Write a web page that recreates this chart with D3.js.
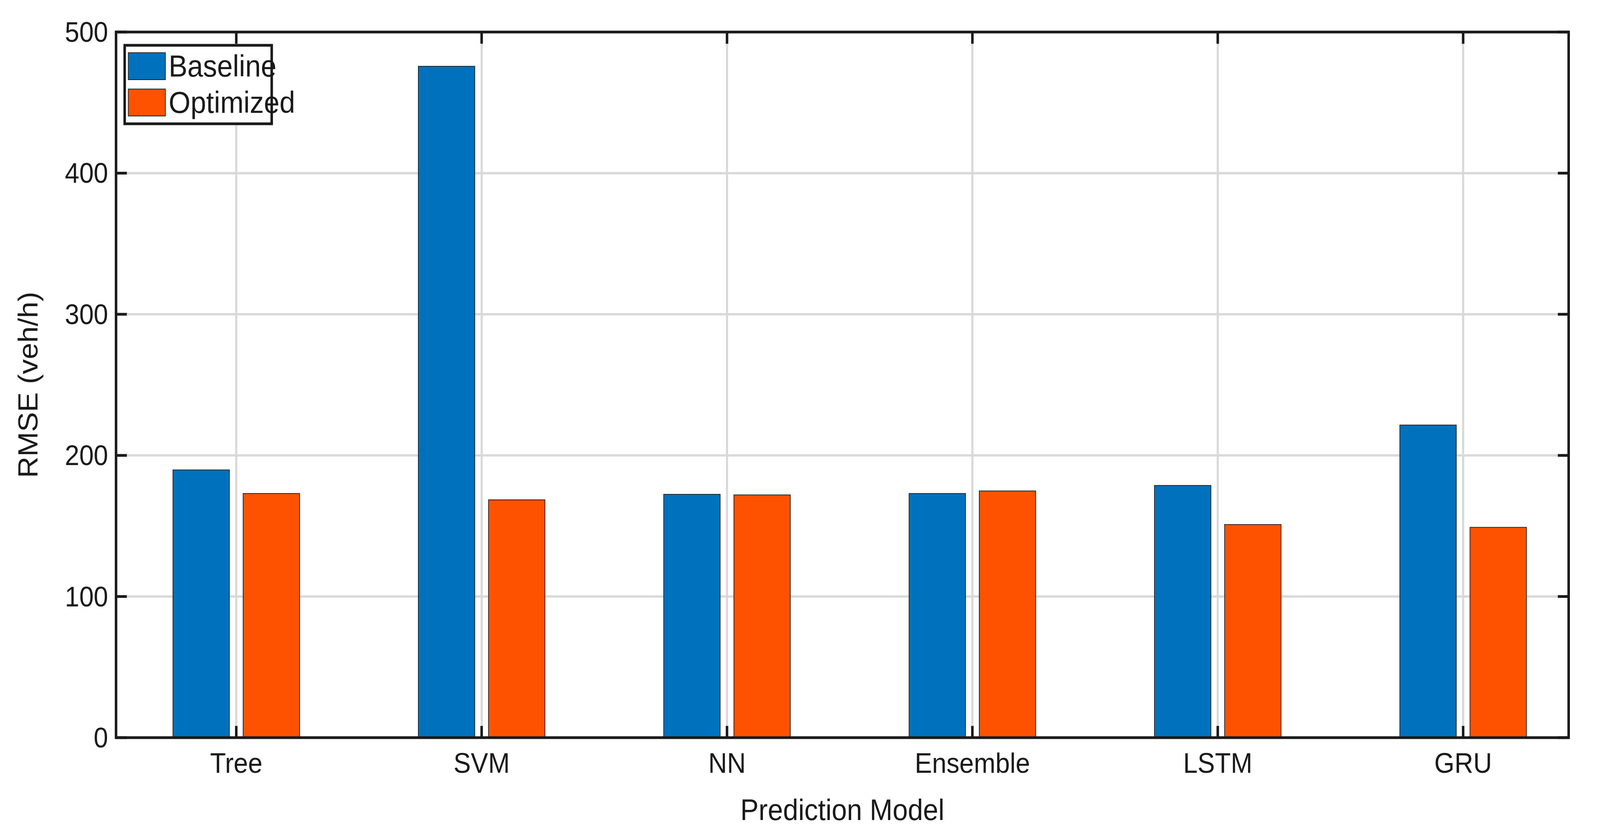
<!DOCTYPE html>
<html>
  <head>
    <meta charset="UTF-8" />
    <title>RMSE by prediction model</title>
    <style>
      html, body { margin: 0; padding: 0; background: #fff; overflow: hidden; }
      svg { display: block; width: 100vw; height: 100vh; }
      text { font-family: "Liberation Sans", Arial, sans-serif; fill: #1a1a1a; }
    </style>
  </head>
  <body>
    <svg viewBox="0 0 4440 2146" preserveAspectRatio="none"></svg>
    <script src="https://d3js.org/d3.v7.min.js"></script>
    <script>
      // data
      const models = ["Tree", "SVM", "NN", "Ensemble", "LSTM", "GRU"];
      const baseline = [189.7, 475.7, 172.4, 173, 178.7, 221.5];
      const optimized = [173, 168.5, 172, 174.8, 151, 149];
      const yTicks = [0, 100, 200, 300, 400, 500];
      const seriesNames = ["Baseline", "Optimized"];
      const colors = ["#0072BD", "#FF5200"];

      const L = 322, R = 4353, T = 82, B = 1889;
      const svg = d3.select("svg");

      const x = d3.scaleLinear().domain([0.51, 6.43]).range([L, R]);
      const y = d3.scaleLinear().domain([0, 500]).range([B, T]);

      // grid
      svg.append("g").selectAll("line").data(models).join("line")
        .attr("x1", (d, i) => x(i + 1)).attr("x2", (d, i) => x(i + 1))
        .attr("y1", T).attr("y2", B)
        .attr("stroke", "#d9d9d9").attr("stroke-width", 6);
      svg.append("g").selectAll("line").data(yTicks).join("line")
        .attr("x1", L).attr("x2", R)
        .attr("y1", d => y(d)).attr("y2", d => y(d))
        .attr("stroke", "#d9d9d9").attr("stroke-width", 6);

      // bars
      const bw = 0.23, off = 0.143;
      [baseline, optimized].forEach((vals, s) => {
        svg.append("g").selectAll("rect").data(vals).join("rect")
          .attr("x", (d, i) => x(i + 1 + (s === 0 ? -off : off) - bw / 2))
          .attr("width", x(bw) - x(0))
          .attr("y", d => y(d))
          .attr("height", d => y(0) - y(d))
          .attr("fill", colors[s])
          .attr("stroke", "#222").attr("stroke-width", 2);
      });

      // ticks (inward)
      const tl = 30;
      models.forEach((m, i) => {
        svg.append("line").attr("x1", x(i + 1)).attr("x2", x(i + 1))
          .attr("y1", B).attr("y2", B - tl).attr("stroke", "#1a1a1a").attr("stroke-width", 7);
        svg.append("line").attr("x1", x(i + 1)).attr("x2", x(i + 1))
          .attr("y1", T).attr("y2", T + tl).attr("stroke", "#1a1a1a").attr("stroke-width", 7);
      });
      yTicks.forEach(v => {
        svg.append("line").attr("x1", L).attr("x2", L + tl)
          .attr("y1", y(v)).attr("y2", y(v)).attr("stroke", "#1a1a1a").attr("stroke-width", 7);
        svg.append("line").attr("x1", R).attr("x2", R - tl)
          .attr("y1", y(v)).attr("y2", y(v)).attr("stroke", "#1a1a1a").attr("stroke-width", 7);
      });

      // box
      svg.append("rect").attr("x", L).attr("y", T).attr("width", R - L).attr("height", B - T)
        .attr("fill", "none").attr("stroke", "#1a1a1a").attr("stroke-width", 7);

      // tick labels
      svg.append("g").selectAll("text").data(models).join("text")
        .attr("x", (d, i) => x(i + 1)).attr("y", B + 90)
        .attr("text-anchor", "middle").attr("font-size", 72).text(d => d);
      svg.append("g").selectAll("text").data(yTicks).join("text")
        .attr("x", L - 22).attr("y", d => y(d) + 25)
        .attr("text-anchor", "end").attr("font-size", 72).text(d => d);

      // axis labels
      svg.append("text").attr("x", (L + R) / 2).attr("y", 2100)
        .attr("text-anchor", "middle").attr("font-size", 76).text("Prediction Model");
      svg.append("text").attr("transform", `translate(104,${(T + B) / 2}) rotate(-90)`)
        .attr("text-anchor", "middle").attr("font-size", 76).text("RMSE (veh/h)");

      // legend
      const lg = svg.append("g");
      lg.append("rect").attr("x", 346).attr("y", 116).attr("width", 408).attr("height", 201)
        .attr("fill", "#fff").attr("stroke", "#1a1a1a").attr("stroke-width", 7);
      seriesNames.forEach((n, i) => {
        lg.append("rect").attr("x", 356).attr("y", 135 + i * 93).attr("width", 103).attr("height", 69)
          .attr("fill", colors[i]).attr("stroke", "#222").attr("stroke-width", 2);
        lg.append("text").attr("x", 468).attr("y", 196 + i * 93).attr("font-size", 78).text(n);
      });
    </script>
  </body>
</html>
